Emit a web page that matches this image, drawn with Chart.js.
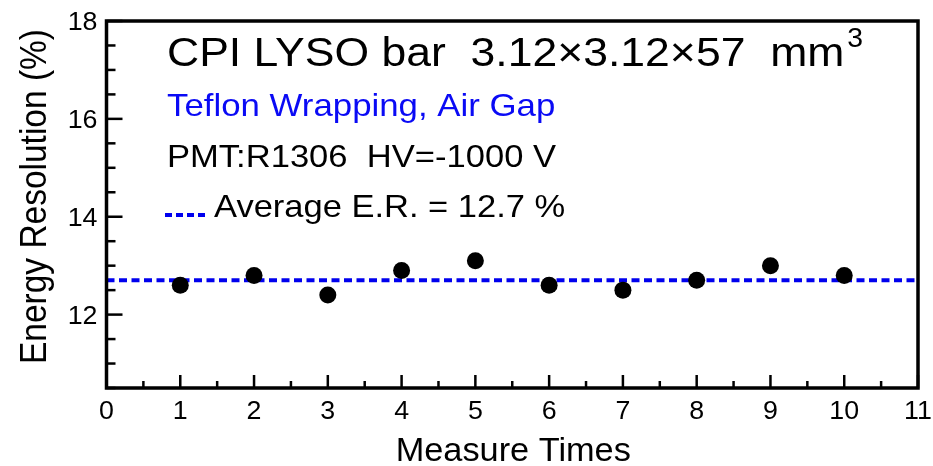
<!DOCTYPE html>
<html>
<head>
<meta charset="utf-8">
<script src="https://cdn.jsdelivr.net/npm/chart.js@4/dist/chart.umd.min.js"></script>
<style>
  html, body { margin: 0; padding: 0; background: #ffffff; }
  #wrap { width: 933px; height: 466px; }
</style>
</head>
<body>
<div id="wrap"><canvas id="chart" width="933" height="466"></canvas></div>
<script>
// Measurement series: energy resolution of one LYSO bar over repeated runs
const measureTimes = [1, 2, 3, 4, 5, 6, 7, 8, 9, 10];
const energyResolution = [12.6, 12.8, 12.4, 12.9, 13.1, 12.6, 12.5, 12.7, 13.0, 12.8];
const averageER = 12.7;

// Axis ranges and labelled ticks
const xRange = [0, 11];
const yRange = [10.5, 18];
const xTickLabels = [0, 1, 2, 3, 4, 5, 6, 7, 8, 9, 10, 11];
const yTickLabels = [12, 14, 16, 18];
const xMinorStep = 0.5;
const yMinorStep = 0.5;

// Texts
const titleText = 'CPI LYSO bar  3.12\u00d73.12\u00d757  mm';
const titleSup = '3';
const wrapText = 'Teflon Wrapping, Air Gap';
const pmtText = 'PMT:R1306  HV=-1000 V';
const avgText = 'Average E.R. = ' + averageER.toFixed(1) + ' %';
const xTitle = 'Measure Times';
const yTitle = 'Energy Resolution (%)';

const FONT = '"Liberation Sans", Arial, Helvetica, sans-serif';
const BLUE = '#0000ee';
const TEXT_BLUE = '#0a0af5';

// Draw text with a stretch factor along the reading direction
function stretchedText(ctx, text, x, y, size, sx, color, align, rotate) {
  ctx.save();
  ctx.translate(x, y);
  if (rotate) ctx.rotate(rotate);
  ctx.scale(sx, 1);
  ctx.font = size + 'px ' + FONT;
  ctx.fillStyle = color;
  ctx.textAlign = align || 'left';
  ctx.textBaseline = 'alphabetic';
  ctx.fillText(text, 0, 0);
  const w = ctx.measureText(text).width * sx;
  ctx.restore();
  return w;
}

const framePlugin = {
  id: 'frameAndText',
  afterDatasetsDraw(chart) {
    const ctx = chart.ctx;
    const xs = chart.scales.x, ys = chart.scales.y;
    const a = chart.chartArea;
    ctx.save();
    ctx.strokeStyle = '#000';
    ctx.lineCap = 'butt';

    // inward ticks on the left axis
    ctx.lineWidth = 2.5;
    for (let v = yRange[0]; v <= yRange[1] + 1e-9; v += yMinorStep) {
      const py = ys.getPixelForValue(v);
      const major = yTickLabels.includes(Math.round(v * 100) / 100);
      ctx.beginPath();
      ctx.moveTo(a.left, py);
      ctx.lineTo(a.left + (major ? 16 : 9), py);
      ctx.stroke();
    }
    // inward ticks on the bottom axis
    for (let v = xRange[0]; v <= xRange[1] + 1e-9; v += xMinorStep) {
      const px = xs.getPixelForValue(v);
      const major = Math.abs(v - Math.round(v)) < 1e-9;
      ctx.beginPath();
      ctx.moveTo(px, a.bottom);
      ctx.lineTo(px, a.bottom - (major ? 13 : 7));
      ctx.stroke();
    }

    // frame box
    ctx.lineWidth = 3.5;
    ctx.strokeRect(a.left, a.top, a.right - a.left, a.bottom - a.top);
    ctx.restore();
  },
  afterDraw(chart) {
    const ctx = chart.ctx;
    const xs = chart.scales.x, ys = chart.scales.y;
    const a = chart.chartArea;

    // tick labels
    const tickSize = 26, tickSx = 1.03;
    yTickLabels.forEach(v => {
      const py = ys.getPixelForValue(v);
      stretchedText(ctx, String(v), a.left - 9, py + tickSize * 0.358, tickSize, tickSx, '#000', 'right');
    });
    xTickLabels.forEach(v => {
      const px = xs.getPixelForValue(v);
      stretchedText(ctx, String(v), px, a.bottom + 31, tickSize, tickSx, '#000', 'center');
    });

    // axis titles
    stretchedText(ctx, xTitle, (a.left + a.right) / 2 + 1, 461, 33, 1.04, '#000', 'center');
    stretchedText(ctx, yTitle, 46, (a.top + a.bottom) / 2 - 8, 36, 0.93, '#000', 'center', -Math.PI / 2);

    // annotation block
    const tx = 167;
    const w = stretchedText(ctx, titleText, tx, 66, 41, 1.086, '#000', 'left');
    stretchedText(ctx, titleSup, tx + w + 3, 47, 27, 1.05, '#000', 'left');
    stretchedText(ctx, wrapText, tx, 116, 32, 1.088, TEXT_BLUE, 'left');
    stretchedText(ctx, pmtText, tx, 167, 32, 1.08, '#000', 'left');

    // legend sample for the average line
    ctx.save();
    ctx.strokeStyle = BLUE;
    ctx.lineWidth = 4;
    ctx.setLineDash([7, 4]);
    ctx.beginPath();
    ctx.moveTo(165, 215);
    ctx.lineTo(205, 215);
    ctx.stroke();
    ctx.restore();
    stretchedText(ctx, avgText, 214, 217, 32, 1.078, '#000', 'left');
  }
};

new Chart(document.getElementById('chart').getContext('2d'), {
  type: 'scatter',
  data: {
    datasets: [
      {
        label: 'Energy Resolution',
        data: measureTimes.map((x, i) => ({ x: x, y: energyResolution[i] })),
        pointRadius: 8.5,
        pointBackgroundColor: '#000',
        pointBorderColor: '#000',
        pointBorderWidth: 0,
        showLine: false
      },
      {
        type: 'line',
        label: 'Average E.R.',
        data: xRange.map(x => ({ x: x, y: averageER })),
        borderColor: BLUE,
        borderWidth: 4,
        borderDash: [8, 4.5],
        pointRadius: 0,
        fill: false,
        tension: 0
      }
    ]
  },
  options: {
    responsive: false,
    animation: false,
    devicePixelRatio: 1,
    layout: { padding: { left: 106.5, top: 21, right: 15, bottom: 78 } },
    plugins: { legend: { display: false }, tooltip: { enabled: false } },
    scales: {
      x: { type: 'linear', min: xRange[0], max: xRange[1], display: false },
      y: { type: 'linear', min: yRange[0], max: yRange[1], display: false }
    }
  },
  plugins: [framePlugin]
});
</script>
</body>
</html>
